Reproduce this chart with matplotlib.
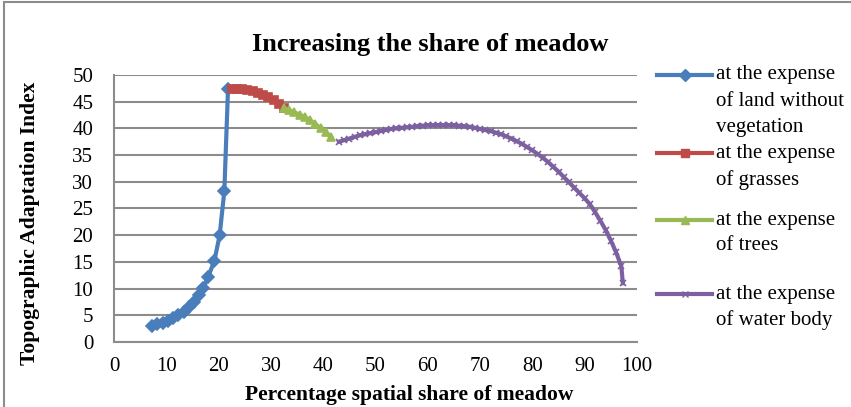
"""Increasing the share of meadow - topographic adaptation index."""

import matplotlib
matplotlib.use("Agg")
import matplotlib.pyplot as plt
from matplotlib.lines import Line2D
from matplotlib.patches import Rectangle

plt.rcParams["font.family"] = ["Liberation Serif", "DejaVu Serif"]

# at the expense of land without vegetation
land_x = [7.3, 8.3, 9.3, 10.3, 11.3, 12.3, 13.3, 14.3, 15.3, 16.3, 17.1, 18.0,
          19.2, 20.2, 21.1, 21.8]
land_y = [3.0, 3.3, 3.6, 4.0, 4.5, 5.0, 5.7, 6.5, 7.5, 8.8, 10.1, 12.2,
          15.2, 20.0, 28.3, 47.4]

# at the expense of grasses
grass_x = [22.5, 23.5, 24.5, 25.5, 26.5, 27.5, 28.5, 29.5, 30.5, 31.5, 32.5]
grass_y = [47.4, 47.4, 47.3, 47.2, 47.0, 46.7, 46.3, 45.8, 45.3, 44.6, 43.8]

# at the expense of trees
trees_x = [32.5, 33.5, 34.5, 35.5, 36.5, 37.5, 38.5, 39.5, 40.5, 41.5]
trees_y = [43.8, 43.4, 43.0, 42.6, 42.1, 41.5, 40.8, 40.1, 39.3, 38.3]

# at the expense of water body
water_x = list(range(43, 98))
water_y = [37.5, 37.8, 38.1, 38.4, 38.7, 38.9, 39.1, 39.3, 39.5, 39.7,
           39.9, 40.0, 40.1, 40.2, 40.3, 40.4, 40.5, 40.6, 40.6, 40.6,
           40.6, 40.6, 40.6, 40.5, 40.4, 40.3, 40.1, 39.9, 39.7, 39.5,
           39.2, 38.9, 38.5, 38.1, 37.6, 37.1, 36.5, 35.9, 35.2, 34.5,
           33.7, 32.8, 31.9, 30.9, 29.9, 28.9, 27.9, 26.9, 25.8, 24.3,
           22.7, 21.0, 19.0, 16.8, 14.2]
water_x.append(97.3)
water_y.append(11.0)

series = [
    (land_x, land_y, "#4A7EBB", "D", 6, ["at the expense", "of land without", "vegetation"]),
    (grass_x, grass_y, "#BE4B48", "s", 6, ["at the expense", "of grasses"]),
    (trees_x, trees_y, "#98B954", "^", 6, ["at the expense", "of trees"]),
    (water_x, water_y, "#7D60A0", "x", 4, ["at the expense", "of water body"]),
]

fig = plt.figure(figsize=(8.51, 4.07), dpi=100)
ax = fig.add_axes([114 / 851, 1 - 342 / 407, (637 - 114) / 851, (342 - 75) / 407])

for xs, ys, color, marker, ms, _ in series:
    ax.plot(xs, ys, color=color, linewidth=3, marker=marker, markersize=ms,
            markeredgewidth=1.2, markeredgecolor=color, markerfacecolor=color,
            zorder=3)

ax.set_xlim(0, 100)
ax.set_ylim(0, 50)
ax.set_xticks(range(0, 101, 10))
ax.set_yticks(range(0, 51, 5))
ax.tick_params(length=0, labelsize=15)
ax.tick_params(axis="y", pad=15)
ax.tick_params(axis="x", pad=11)
ax.grid(True, axis="y", color="#8c8c8c", linewidth=1.5)
ax.set_axisbelow(True)
for side in ("top", "right"):
    ax.spines[side].set_visible(False)
for side in ("left", "bottom"):
    ax.spines[side].set_color("#8c8c8c")
    ax.spines[side].set_linewidth(1.5)

ax.set_xlabel("Percentage spatial share of meadow", fontsize=15.5,
              fontweight="bold", va="center")
ax.set_ylabel("Topographic Adaptation Index", fontsize=15.5, fontweight="bold",
              va="center")
ax.yaxis.set_label_coords(-84 / 523, (342 - 223) / 267)
ax.xaxis.set_label_coords((409 - 114) / 523, -(395 - 342) / 267)
fig.text(430 / 851, 1 - 45 / 407, "Increasing the share of meadow",
         ha="center", va="center", fontsize=19, fontweight="bold")

# legend drawn by hand so that the handle sits on the first text line
legend_rows = [[75, 102, 127], [153, 180], [220, 246], [294, 320]]
for (xs, ys, color, marker, ms, lines), rows in zip(series, legend_rows):
    yy = 1 - rows[0] / 407
    fig.add_artist(Line2D([657 / 851, 712 / 851], [yy, yy], color=color,
                          linewidth=3, transform=fig.transFigure))
    fig.add_artist(Line2D([684.5 / 851], [yy], color=color, marker=marker,
                          markersize=ms, markeredgecolor=color,
                          markerfacecolor=color, transform=fig.transFigure))
    for txt, py in zip(lines, rows):
        fig.text(716 / 851, 1 - py / 407, txt, fontsize=15, va="center",
                 ha="left")

fig.add_artist(Rectangle((4 / 851, -0.05), 1.2, 1.05 - 1.5 / 407,
                         fill=False, edgecolor="#8c8c8c", linewidth=1.5,
                         transform=fig.transFigure))

fig.savefig("out.png", dpi=100)
